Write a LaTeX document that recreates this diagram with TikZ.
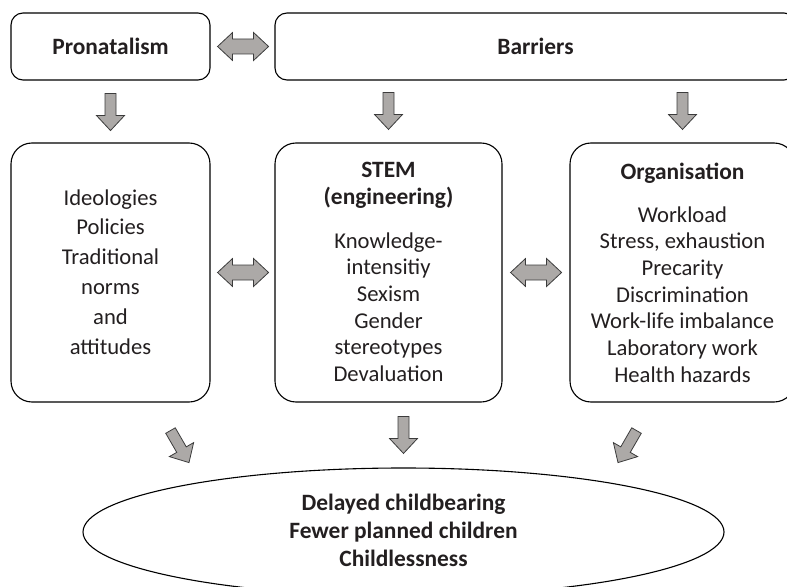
\documentclass[tikz,border=0pt]{standalone}
\usepackage{fontspec}
\setmainfont{Carlito}
\usetikzlibrary{shapes.geometric,calc}
\definecolor{arrfill}{RGB}{172,169,167}
\definecolor{arrline}{RGB}{60,60,60}
\definecolor{txt}{RGB}{35,31,32}
\begin{document}
\begin{tikzpicture}[x=1bp,y=-1bp,
  topbox/.style={draw=black, line width=1.1bp, rounded corners=12bp, inner sep=0pt},
  bigbox/.style={draw=black, line width=1.1bp, rounded corners=21bp, inner sep=0pt},
  body/.style={text=txt, font=\fontsize{22.7}{26.8}\selectfont, align=center, inner sep=0pt},
  title/.style={text=txt, font=\fontsize{23.5}{27}\selectfont\bfseries, align=center, inner sep=0pt},
  arrowstyle/.style={draw=arrline, fill=arrfill, line width=0.8bp, line join=miter},
  sarrow/.pic={\path[arrowstyle] (0,-5.5) -- (22,-5.5) -- (22,-14) -- (37,0) -- (22,14) -- (22,5.5) -- (0,5.5) -- cycle;},
  darrow/.pic={\path[arrowstyle] (0,0) -- (15,-14) -- (15,-7.5) -- (36,-7.5) -- (36,-14) -- (51,0) -- (36,14) -- (36,7.5) -- (15,7.5) -- (15,14) -- cycle;}
]
\useasboundingbox (0,0) rectangle (787,587);
\clip (0,0) rectangle (787,587);

% top row
\node[topbox, minimum width=199bp, minimum height=67bp, title] (pro) at (110.5,46.5) {Pronatalism};
\node[topbox, minimum width=521bp, minimum height=67bp, title] (bar) at (535.5,46.5) {Barriers};

% middle row
\node[bigbox, minimum width=199bp, minimum height=259bp] (ideo) at (110.5,272.5) {};
\node[bigbox, minimum width=227bp, minimum height=259bp] (stem) at (388.5,272.5) {};
\node[bigbox, minimum width=225bp, minimum height=259bp] (org) at (682.5,272.5) {};

\node[body, font=\fontsize{22.7}{30}\selectfont] (ideotxt) at (110.5,272) {Ideologies\\Policies\\Traditional\\norms\\and\\attitudes};
\node[title] (stemtitle) at (388.5,185.5) {STEM\\(engineering)};
\node[body] (stemtxt) at (388.5,307) {Knowledge-\\intensitiy\\Sexism\\Gender\\stereotypes\\Devaluation};
\node[title] (orgtitle) at (682.5,173) {Organisation};
\node[body] (orgtxt) at (682.5,294.5) {Workload\\Stress, exhaustion\\Precarity\\Discrimination\\Work-life imbalance\\Laboratory work\\Health hazards};

% outcome
\node[ellipse, draw=black, line width=1.1bp, minimum width=641bp, minimum height=128bp, inner sep=0pt] (out) at (403.5,532) {};
\node[title, font=\fontsize{23.5}{28}\selectfont\bfseries] (outtxt) at (403.5,530) {Delayed childbearing\\Fewer planned children\\Childlessness};

% block arrows
\pic at ($(pro.east)+(7,0)$) {darrow};
\pic at ($(ideo.east)+(7,0)$) {darrow};
\pic at ($(stem.east)+(8,0)$) {darrow};
\pic[rotate=-90] at ($(pro.south)+(0,13)$) {sarrow};
\pic[rotate=-90] at ($(stem.north)+(0,-50)$) {sarrow};
\pic[rotate=-90] at ($(org.north)+(0,-50)$) {sarrow};
\pic[rotate=-60] at ($(ideo.south)+(60,28)$) {sarrow};
\pic[rotate=-120] at ($(org.south)+(-46,28)$) {sarrow};
\pic[rotate=-90] at ($(out.north)+(0,-51)$) {sarrow};
\end{tikzpicture}
\end{document}
